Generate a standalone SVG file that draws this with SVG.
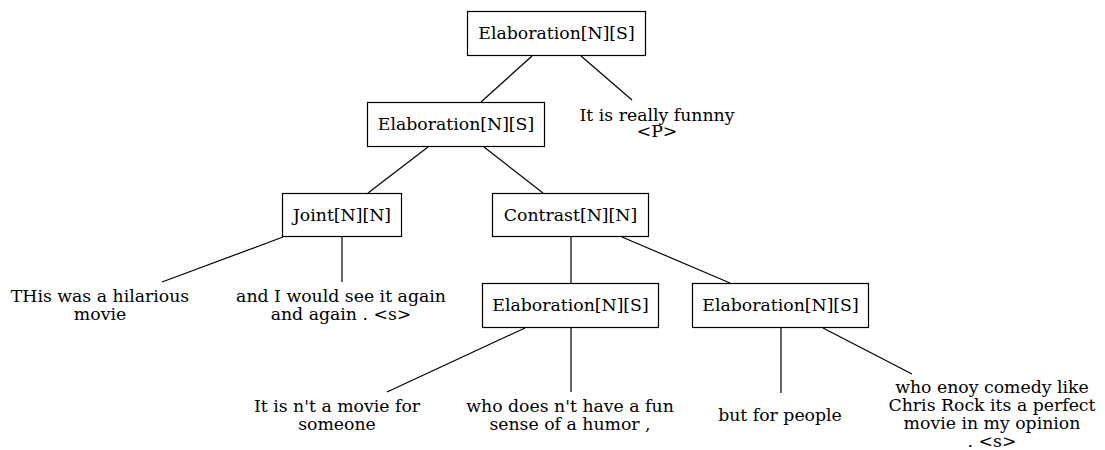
<svg xmlns="http://www.w3.org/2000/svg" width="1105" height="450" viewBox="0 0 1105 450">
<style>
.box{fill:#fff;stroke:#000;stroke-width:1.2}
.lbl{font-family:"DejaVu Serif",serif;font-size:17.3px;fill:#000;text-anchor:middle}
.edge{stroke:#000;stroke-width:1.2;fill:none}
</style>
<rect width="1105" height="450" fill="#fff"/>
<g id="connectors">
<line class="edge" x1="532" y1="56" x2="481" y2="102"/>
<line class="edge" x1="581" y1="56" x2="632" y2="100"/>
<line class="edge" x1="428" y1="147" x2="368" y2="193"/>
<line class="edge" x1="484" y1="147" x2="543" y2="193"/>
<line class="edge" x1="283" y1="237" x2="162" y2="282"/>
<line class="edge" x1="342" y1="237" x2="342" y2="282"/>
<line class="edge" x1="571" y1="237" x2="571" y2="283"/>
<line class="edge" x1="622" y1="237" x2="730" y2="283"/>
<line class="edge" x1="525" y1="328" x2="387" y2="392"/>
<line class="edge" x1="571" y1="328" x2="571" y2="392"/>
<line class="edge" x1="781" y1="328" x2="781" y2="393"/>
<line class="edge" x1="823" y1="328" x2="912" y2="374"/>
</g>
<g id="n1"><rect class="box" x="467.5" y="11.5" width="178" height="44"/><text class="lbl" x="556.5" y="39">Elaboration[N][S]</text></g>
<g id="n2"><rect class="box" x="367.5" y="102.5" width="177" height="44"/><text class="lbl" x="456" y="129.5">Elaboration[N][S]</text></g>
<g id="n3"><rect class="box" x="282.5" y="193.5" width="119" height="43"/><text class="lbl" x="342" y="220.5">Joint[N][N]</text></g>
<g id="n4"><rect class="box" x="492.5" y="193.5" width="156" height="43"/><text class="lbl" x="570.5" y="220.5">Contrast[N][N]</text></g>
<g id="n5"><rect class="box" x="482.5" y="283.5" width="176" height="44"/><text class="lbl" x="570.5" y="310.5">Elaboration[N][S]</text></g>
<g id="n6"><rect class="box" x="692.5" y="283.5" width="176" height="44"/><text class="lbl" x="780.5" y="310.5">Elaboration[N][S]</text></g>
<g id="leaf1"><text class="lbl" x="657" y="121">It is really funnny</text><text class="lbl" x="657" y="137">&lt;P&gt;</text></g>
<g id="leaf2"><text class="lbl" x="100" y="302">THis was a hilarious</text><text class="lbl" x="100" y="320">movie</text></g>
<g id="leaf3"><text class="lbl" x="341" y="302">and I would see it again</text><text class="lbl" x="341" y="320">and again . &lt;s&gt;</text></g>
<g id="leaf4"><text class="lbl" x="337" y="412">It is n't a movie for</text><text class="lbl" x="337" y="430">someone</text></g>
<g id="leaf5"><text class="lbl" x="570" y="412">who does n't have a fun</text><text class="lbl" x="570" y="430">sense of a humor ,</text></g>
<g id="leaf6"><text class="lbl" x="780" y="421">but for people</text></g>
<g id="leaf7"><text class="lbl" x="992" y="393">who enoy comedy like</text><text class="lbl" x="992" y="411">Chris Rock its a perfect</text><text class="lbl" x="992" y="429">movie in my opinion</text><text class="lbl" x="992" y="447">. &lt;s&gt;</text></g>
</svg>
